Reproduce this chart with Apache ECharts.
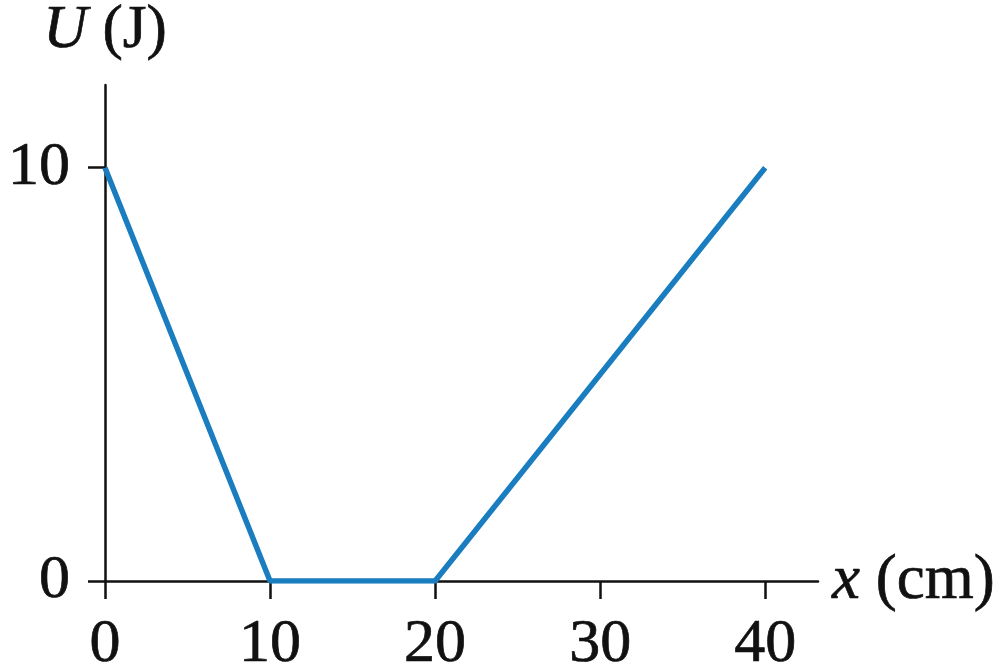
<!DOCTYPE html>
<html><head><meta charset="utf-8">
<script src="https://cdn.jsdelivr.net/npm/echarts@6/dist/echarts.min.js"></script>
<style>html,body{margin:0;padding:0;background:#fff}#c{width:1002px;height:671px}</style>
</head><body><div id="c"></div>
<script>
var xValues = [0, 10, 20, 40];
var uValues = [10, 0, 0, 10];
var xTicks = [0, 10, 20, 30, 40];
var yTicks = [0, 10];
var font = 'Liberation Serif';
var ink = '#111';
function txt(size, extra) {
  var o = {fontFamily: font, fontSize: size, color: ink, textBorderColor: ink, textBorderWidth: 0.7};
  for (var k in extra) o[k] = extra[k];
  return o;
}
var chart = echarts.init(document.getElementById('c'));
chart.setOption({
  animation: false,
  backgroundColor: '#fff',
  grid: {left: 105, right: 184, top: 85, bottom: 90, containLabel: false, outerBoundsMode: 'none'},
  xAxis: {
    type: 'value', min: 0, max: 43.2,
    name: '{i|x} (cm)', nameLocation: 'end', nameGap: 14,
    nameTextStyle: txt(63, {rich: {i: txt(63, {fontStyle: 'italic'})}}),
    axisLine: {show: true, onZero: false, lineStyle: {color: ink, width: 2.5}},
    axisTick: {show: true, length: 18, lineStyle: {color: ink, width: 2.5}, customValues: xTicks},
    axisLabel: txt(62, {customValues: xTicks, margin: 33}),
    splitLine: {show: false}
  },
  yAxis: {
    type: 'value', min: 0, max: 12,
    name: '{i|U} (J)', nameLocation: 'end', nameGap: 24,
    nameTextStyle: txt(61, {rich: {i: txt(61, {fontStyle: 'italic'})}}),
    axisLine: {show: true, onZero: false, lineStyle: {color: ink, width: 2.5}},
    axisTick: {show: true, length: 17, lineStyle: {color: ink, width: 2.5}, customValues: yTicks},
    axisLabel: txt(62, {customValues: yTicks, margin: 35}),
    splitLine: {show: false}
  },
  series: [{
    type: 'line',
    data: xValues.map(function (x, i) { return [x, uValues[i]]; }),
    symbol: 'none',
    lineStyle: {color: '#1a7dc0', width: 5.5},
    z: 1
  }]
});
</script></body></html>
